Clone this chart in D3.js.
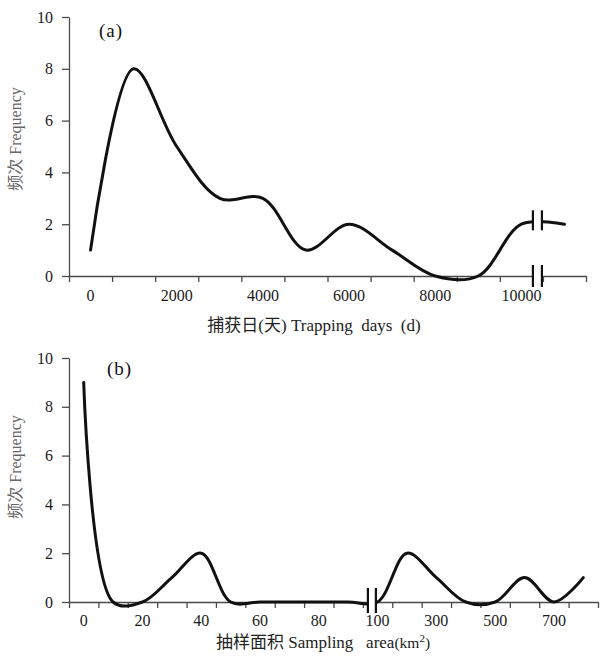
<!DOCTYPE html>
<html>
<head>
<meta charset="utf-8">
<script src="https://cdn.jsdelivr.net/npm/d3@7/dist/d3.min.js"></script>
<style>
  html, body { margin: 0; padding: 0; background: #fff; }
  svg { display: block; }
</style>
</head>
<body>
<svg id="chart" width="603" height="667"></svg>
<script>
// ---- Data (a): trapping days ----
const daysA = [0, 1000, 2000, 3000, 4000, 5000, 6000, 7000, 8000, 9000, 10000, 11000];
const freqA = [1, 8, 5, 3, 3, 1, 2, 1, 0, 0, 2, 2];
const tickLabelsA = ["0", "2000", "4000", "6000", "8000", "10000"];

// ---- Data (b): sampling area ----
const areaB = [0, 10, 20, 30, 40, 50, 60, 70, 80, 90, 100, 200, 300, 400, 500, 600, 700, 800];
const freqB = [9, 0, 0, 1, 2, 0, 0, 0, 0, 0, 0, 2, 1, 0, 0, 1, 0, 1];
const tickLabelsB = ["0", "20", "40", "60", "80", "100", "300", "500", "700"];

const yTicks = [0, 2, 4, 6, 8, 10];

const FONT = '"Liberation Serif", "Times New Roman", "Noto Sans CJK SC", serif';
const svg = d3.select("#chart");
const axisColor = "#4a4a4a";

function panel(cfg) {
  const g = svg.append("g").attr("font-family", FONT);
  const cats = cfg.cats.map(String);
  const n = cats.length;
  const xBand = d3.scaleBand().domain(cats).range([cfg.left, cfg.right]).padding(0);
  const bw = xBand.bandwidth();
  const xb = d3.scaleLinear().domain([0, n]).range([cfg.left, cfg.right]);
  const y = d3.scaleLinear().domain([0, 10]).range([cfg.bottom, cfg.top]);

  // y axis
  const ya = g.append("g").attr("transform", `translate(${cfg.left},0)`)
    .call(d3.axisLeft(y).tickValues(yTicks).tickSizeInner(7).tickSizeOuter(0).tickPadding(9));
  ya.attr("font-family", FONT).attr("font-size", 16);
  ya.selectAll("path,line").attr("stroke", axisColor).attr("stroke-width", 1.3);
  ya.selectAll("text").attr("fill", "#1a1a1a");

  // x axis ticks at category boundaries
  const xa = g.append("g").attr("transform", `translate(0,${cfg.bottom})`)
    .call(d3.axisBottom(xb).tickValues(d3.range(n + 1)).tickFormat("").tickSizeInner(6).tickSizeOuter(0));
  xa.selectAll("path,line").attr("stroke", axisColor).attr("stroke-width", 1.3);

  // x labels (every other category)
  const xl = g.append("g").attr("transform", `translate(0,${cfg.bottom})`)
    .call(d3.axisBottom(xBand).tickValues(cfg.labels).tickSize(0).tickPadding(cfg.labelPad));
  xl.attr("font-family", FONT).attr("font-size", 16);
  xl.select(".domain").remove();
  xl.selectAll("text").attr("fill", "#1a1a1a");

  // curve
  const pts = cfg.cats.map((c, i) => ({ c: String(c), v: cfg.vals[i] }));
  const line = d3.line()
    .x(d => xBand(d.c) + bw / 2)
    .y(d => y(d.v))
    .curve(d3.curveCatmullRom.alpha(0.5));
  g.append("path").datum(pts).attr("d", line)
    .attr("fill", "none").attr("stroke", "#111").attr("stroke-width", 3)
    .attr("stroke-linejoin", "round").attr("stroke-linecap", "round");

  // break marks
  const bx = cfg.breakX(xBand, xb);
  cfg.breaks.forEach(b => {
    const yc = b.y(y);
    g.append("rect").attr("x", bx - cfg.gap).attr("y", yc - b.h / 2)
      .attr("width", cfg.gap * 2).attr("height", b.h).attr("fill", "#fff");
    [-cfg.gap, cfg.gap].forEach(o => {
      g.append("line").attr("x1", bx + o).attr("x2", bx + o)
        .attr("y1", yc - b.h / 2).attr("y2", yc + b.h / 2)
        .attr("stroke", "#111").attr("stroke-width", 2.2);
    });
  });

  // panel letter
  g.append("text").attr("x", cfg.letterX).attr("y", cfg.letterY)
    .attr("font-size", 19).attr("letter-spacing", 1).attr("fill", "#111").text(cfg.letter);

  // y title
  g.append("text")
    .attr("transform", `translate(21,${cfg.yTitleY}) rotate(-90)`)
    .attr("text-anchor", "middle").attr("font-size", 16).attr("fill", "#666")
    .text("频次 Frequency");

  // x title
  const xt = g.append("text")
    .attr("x", cfg.xTitleX).attr("y", cfg.xTitleY)
    .attr("text-anchor", "middle").attr("font-size", 17).attr("fill", "#222")
    .attr("xml:space", "preserve").style("white-space", "pre");
  cfg.xTitle(xt);
}

panel({
  cats: daysA, vals: freqA, labels: tickLabelsA,
  left: 69, right: 586, top: 17, bottom: 276, labelPad: 14,
  breakX: (xBand, xb) => xb(11) - 5.5, gap: 4.5,
  breaks: [{ y: y => y(2.15), h: 20 }, { y: y => y(0), h: 22 }],
  letter: "(a)", letterX: 99, letterY: 37,
  yTitleY: 139,
  xTitleX: 314, xTitleY: 331,
  xTitle: t => t.text("捕获日(天) Trapping  days  (d)")
});

panel({
  cats: areaB, vals: freqB, labels: tickLabelsB,
  left: 69, right: 598, top: 358, bottom: 602, labelPad: 13,
  breakX: (xBand, xb) => xb(10) + 9, gap: 4,
  breaks: [{ y: y => y(0) - 1.5, h: 25 }],
  letter: "(b)", letterX: 107, letterY: 375,
  yTitleY: 467,
  xTitleX: 323, xTitleY: 648,
  xTitle: t => {
    t.append("tspan").text("抽样面积 Sampling   area");
    t.append("tspan").attr("font-size", 15.5).text("(km");
    t.append("tspan").attr("font-size", 11).attr("dy", -6).text("2");
    t.append("tspan").attr("font-size", 15.5).attr("dy", 6).text(")");
  }
});
</script>
</body>
</html>
